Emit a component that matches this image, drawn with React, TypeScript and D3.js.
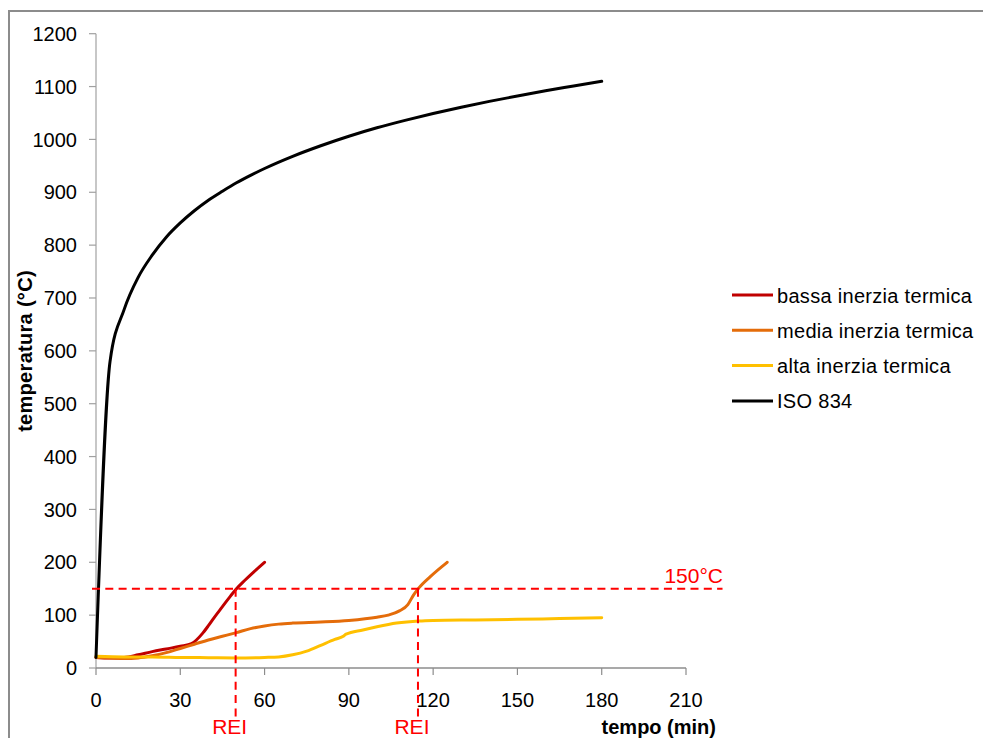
import React from "react";
import * as d3 from "d3";

const isoTime = [0, 5, 10, 15, 20, 25, 30, 35, 40, 45, 50, 55, 60, 70, 80, 90, 100, 110, 120, 130, 140, 150, 160, 170, 180];
const isoTemp = [20, 580, 678, 739, 781, 815, 842, 865, 885, 902, 918, 932, 945, 968, 988, 1006, 1022, 1036, 1049, 1061, 1072, 1082, 1092, 1101, 1110];

const bassaTime = [0, 5, 10, 15, 20, 25, 30, 34, 38, 40, 42, 45, 48, 50, 53, 56, 60];
const bassaTemp = [20, 19, 20, 25, 31, 36, 41, 46, 66, 80, 95, 116, 137, 150, 166, 181, 200];

const mediaTime = [0, 5, 10, 15, 20, 25, 30, 35, 40, 45, 50, 55, 60, 65, 70, 80, 90, 100, 104, 108, 111, 113, 115, 119, 125];
const mediaTemp = [20, 19, 18, 19, 23, 29, 37, 45, 53, 60, 67, 74.5, 79.5, 83, 85, 87, 90, 96, 100, 108, 120, 138, 152, 173, 200];

const altaTime = [0, 10, 20, 30, 40, 50, 60, 65, 70, 75, 80, 85, 88, 89, 95, 100, 107, 115, 120, 135, 150, 165, 180];
const altaTemp = [22, 21, 21, 20, 19.5, 19, 20, 21, 25, 32, 43, 54, 60, 64, 72, 78, 85, 89, 90, 91, 92, 93.5, 95];

const xTicks = [0, 30, 60, 90, 120, 150, 180, 210];
const yTicks = [0, 100, 200, 300, 400, 500, 600, 700, 800, 900, 1000, 1100, 1200];

const seriesNames = ["bassa inerzia termica", "media inerzia termica", "alta inerzia termica", "ISO 834"];
const seriesColors = ["#c00000", "#e46c0a", "#ffc000", "#000000"];

const limitTemp = 150;
const reiTimes = [49.7, 114.6];

export default function App() {
  const W = 983;
  const H = 738;
  const x = d3.scaleLinear().domain([0, 210]).range([96, 686]);
  const y = d3.scaleLinear().domain([0, 1200]).range([668, 33.7]);

  const series = [
    { t: bassaTime, v: bassaTemp },
    { t: mediaTime, v: mediaTemp },
    { t: altaTime, v: altaTemp },
    { t: isoTime, v: isoTemp },
  ];

  const line = d3
    .line<[number, number]>()
    .x((d) => x(d[0]))
    .y((d) => y(d[1]))
    .curve(d3.curveMonotoneX);

  const font = "'Liberation Sans', Arial, sans-serif";
  const red = "#ff0000";

  return (
    <div style={{ position: "absolute", left: 0, top: 0 }}>
      <svg width={W} height={H} style={{ display: "block" }}>
        <rect x={0} y={0} width={W} height={H} fill="#ffffff" />
        <rect x={9} y={11} width={1100} height={900} fill="none" stroke="#8c8c8c" strokeWidth={2} />

        {/* y axis */}
        <line x1={x(0)} x2={x(0)} y1={y(1200)} y2={y(0)} stroke="#b4b4b4" strokeWidth={1.5} />
        {yTicks.map((t) => (
          <g key={"y" + t}>
            <line x1={x(0) - 7} x2={x(0)} y1={y(t)} y2={y(t)} stroke="#a0a0a0" strokeWidth={1.2} />
            <text x={77} y={y(t)} dy="0.36em" textAnchor="end" fontFamily={font} fontSize={20} fill="#000">
              {t}
            </text>
          </g>
        ))}

        {/* x axis */}
        <line x1={x(0)} x2={x(210)} y1={y(0)} y2={y(0)} stroke="#8c8c8c" strokeWidth={1.5} />
        {xTicks.map((t) => (
          <g key={"x" + t}>
            <line x1={x(t)} x2={x(t)} y1={y(0)} y2={y(0) + 7} stroke="#8c8c8c" strokeWidth={1.2} />
            <text x={x(t)} y={706.5} textAnchor="middle" fontFamily={font} fontSize={20} fill="#000">
              {t}
            </text>
          </g>
        ))}

        {/* axis titles */}
        <text x={716} y={734} textAnchor="end" fontFamily={font} fontSize={20} fontWeight="bold" fill="#000">
          tempo (min)
        </text>
        <text
          transform={`translate(32, 351) rotate(-90)`}
          textAnchor="middle"
          fontFamily={font}
          fontSize={20}
          fontWeight="bold"
          letterSpacing={0.3}
          fill="#000"
        >
          temperatura (°C)
        </text>

        {/* series */}
        {series.map((s, i) => (
          <path
            key={"s" + i}
            d={line(s.t.map((t, j) => [t, s.v[j]] as [number, number])) || ""}
            fill="none"
            stroke={seriesColors[i]}
            strokeWidth={3}
            strokeLinejoin="round"
            strokeLinecap="round"
          />
        ))}

        {/* limit lines */}
        <line x1={x(0) - 4} x2={x(223)} y1={y(limitTemp)} y2={y(limitTemp)} stroke={red} strokeWidth={2} strokeDasharray="8,5.3" />
        {reiTimes.map((t, i) => (
          <line key={"r" + i} x1={x(t)} x2={x(t)} y1={y(limitTemp)} y2={718} stroke={red} strokeWidth={2} strokeDasharray="8,5.3" />
        ))}
        <text x={723} y={583} textAnchor="end" fontFamily={font} fontSize={21} fill={red}>
          150°C
        </text>
        {reiTimes.map((t, i) => (
          <text key={"rl" + i} x={x(t) - 6} y={734} textAnchor="middle" fontFamily={font} fontSize={21} fill={red}>
            REI
          </text>
        ))}

        {/* legend */}
        {seriesNames.map((n, i) => {
          const ly = 295 + i * 35.3;
          return (
            <g key={"l" + i}>
              <line x1={732} x2={773} y1={ly} y2={ly} stroke={seriesColors[i]} strokeWidth={3} />
              <text x={777} y={ly + 7.5} fontFamily={font} fontSize={20} letterSpacing={0.3} fill="#000">
                {n}
              </text>
            </g>
          );
        })}
      </svg>
    </div>
  );
}
